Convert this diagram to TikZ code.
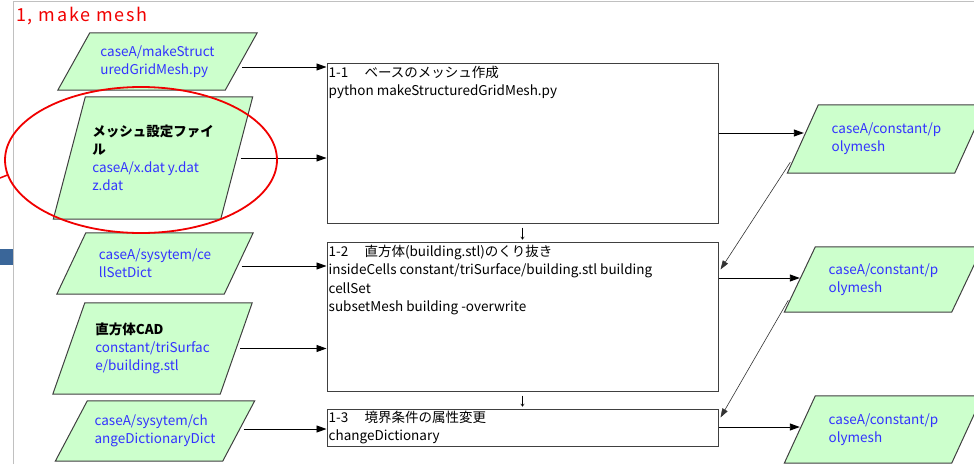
\documentclass[tikz,border=0pt]{standalone}
\usepackage{fontspec}
\setmainfont{Noto Sans CJK JP}
\newfontfamily\titlefont[LetterSpace=10]{Noto Sans CJK JP}
\usetikzlibrary{arrows.meta,calc,backgrounds}
\definecolor{pgreen}{HTML}{CCFFCC}
\definecolor{pblue}{RGB}{51,51,255}
\definecolor{pborder}{HTML}{404040}
\definecolor{framegray}{HTML}{C0C0C0}
\definecolor{sqblue}{HTML}{3A6699}
\definecolor{mred}{RGB}{240,0,0}
\begin{document}
\begin{tikzpicture}[x=1pt,y=-1pt,
  io/.style={rectangle, minimum width=167pt, minimum height=#1, inner sep=2pt,
    text=pblue, align=left, font=\fontsize{13.5}{18}\selectfont},
  iobox/.style={draw=pborder, line width=1pt, fill=pgreen, line join=miter},
  stepbox/.style={draw=pborder, line width=1pt, fill=white, minimum width=391pt, inner sep=0pt},
  boxtxt/.style={anchor=north west, align=left, inner sep=0pt, text=black,
    font=\fontsize{13.5}{18.5}\selectfont},
  arr/.style={draw=black, line width=0.9pt, shorten <=4pt, -{Triangle[length=10pt,width=7pt]}},
  darr/.style={draw=black!80, line width=0.6pt, -{Triangle[length=9pt,width=6pt]}},
  downarr/.style={draw=black, line width=0.5pt, shorten <=4pt, shorten >=2pt, -{To[length=3pt,width=4pt]}}
]
\clip (0,0) rectangle (974,464);
% frame
\draw[framegray, line width=1pt] (13,464) -- (13,1.5) -- (974,1.5);
\fill[sqblue] (0,249) rectangle (13,264.5);
% title
\node[anchor=west, inner sep=0pt, text=mred, font=\titlefont\fontsize{18}{20}\selectfont] (title) at (16,16) {1, make mesh};

% left inputs
\node[io=57pt] (P1) at (157.5,61.5) {caseA/makeStruct\\uredGridMesh.py};
\node[io=122pt] (P2) at (153,158)
  {\textbf{\color{black}メッシュ設定ファイ}\\\textbf{\color{black}ル}\\caseA/x.dat y.dat\\z.dat};
\node[io=61pt] (P3) at (155,263.5) {caseA/sysytem/ce\\llSetDict};
\node[io=91pt] (P4) at (152.5,348.5)
  {\textbf{\color{black}直方体CAD}\\constant/triSurfac\\e/building.stl};
\node[io=60pt] (P5) at (155,431) {caseA/sysytem/ch\\angeDictionaryDict};

% right outputs
\node[io=68pt] (Q1) at (886.5,139) {caseA/constant/p\\olymesh};
\node[io=65pt] (Q2) at (883.5,279.5) {caseA/constant/p\\olymesh};
\node[io=67pt] (Q3) at (883.5,429.5) {caseA/constant/p\\olymesh};

\begin{scope}[on background layer]
\foreach \n/\s in {P1/16,P2/16,P3/14.5,P4/16,P5/16,Q1/15.5,Q2/15.5,Q3/15.5}{
  \draw[iobox] ($(\n.south west)+(-\s,0)$) -- ($(\n.south east)+(-\s,0)$)
    -- ($(\n.north east)+(\s,0)$) -- ($(\n.north west)+(\s,0)$) -- cycle;
}
\end{scope}

% process boxes
\node[stepbox, minimum height=160pt] (R1) at (522.5,143) {};
\node[stepbox, minimum height=149pt] (R2) at (522.5,316.5) {};
\node[stepbox, minimum height=37pt] (R3) at (522.5,427.5) {};
\node[boxtxt] (T1) at ($(R1.north west)+(2,3)$)
  {1-1\hspace{1.2em}ベースのメッシュ作成\\python makeStructuredGridMesh.py};
\node[boxtxt] (T2) at ($(R2.north west)+(2,3)$)
  {1-2\hspace{1.2em}直方体(building.stl)のくり抜き\\insideCells constant/triSurface/building.stl building\\cellSet\\subsetMesh building -overwrite};
\node[boxtxt] (T3) at ($(R3.north west)+(2,2)$)
  {1-3\hspace{1.2em}境界条件の属性変更\\changeDictionary};

% arrows from inputs
\coordinate (p1o) at ($(P1.east)+(-3,5.5)$);
\draw[arr] (p1o) -- (p1o -| R1.west);
\draw[arr] (P2.east) -- (P2.east -| R1.west);
\coordinate (p3o) at ($(P3.east)+(-1,2.5)$);
\draw[arr] (p3o) -- (p3o -| R2.west);
\draw[arr] (P4.east) -- (P4.east -| R2.west);
\coordinate (p5o) at ($(P5.east)+(1,-2)$);
\draw[arr] (p5o) -- (p5o -| R3.west);

% down arrows
\draw[downarr] (R1.south) -- (R2.north);
\draw[downarr] (R2.south) -- (R3.north);

% arrows to outputs
\coordinate (q1i) at ($(Q1.west)+(1,-6)$);
\draw[arr, shorten <=0pt] (q1i -| R1.east) -- (q1i);
\coordinate (q2i) at ($(Q2.west)+(0,-1.5)$);
\draw[arr, shorten <=0pt] (q2i -| R2.east) -- (q2i);
\coordinate (q3i) at ($(Q3.west)+(0,-2.5)$);
\draw[arr, shorten <=0pt] (q3i -| R3.east) -- (q3i);

% feedback arrows
\draw[darr] ($(Q1.south west)+(-12.5,-11)$) -- ($(R2.north east)+(2,28)$);
\draw[darr] ($(Q2.south west)+(-11.5,-12)$) -- ($(R3.north east)+(2,9)$);

% red highlight
\draw[mred, line width=1.8pt] (141,160) ellipse [x radius=136, y radius=73];
\draw[mred, line width=1.5pt] (0,178) -- (7.5,175);
\end{tikzpicture}
\end{document}
